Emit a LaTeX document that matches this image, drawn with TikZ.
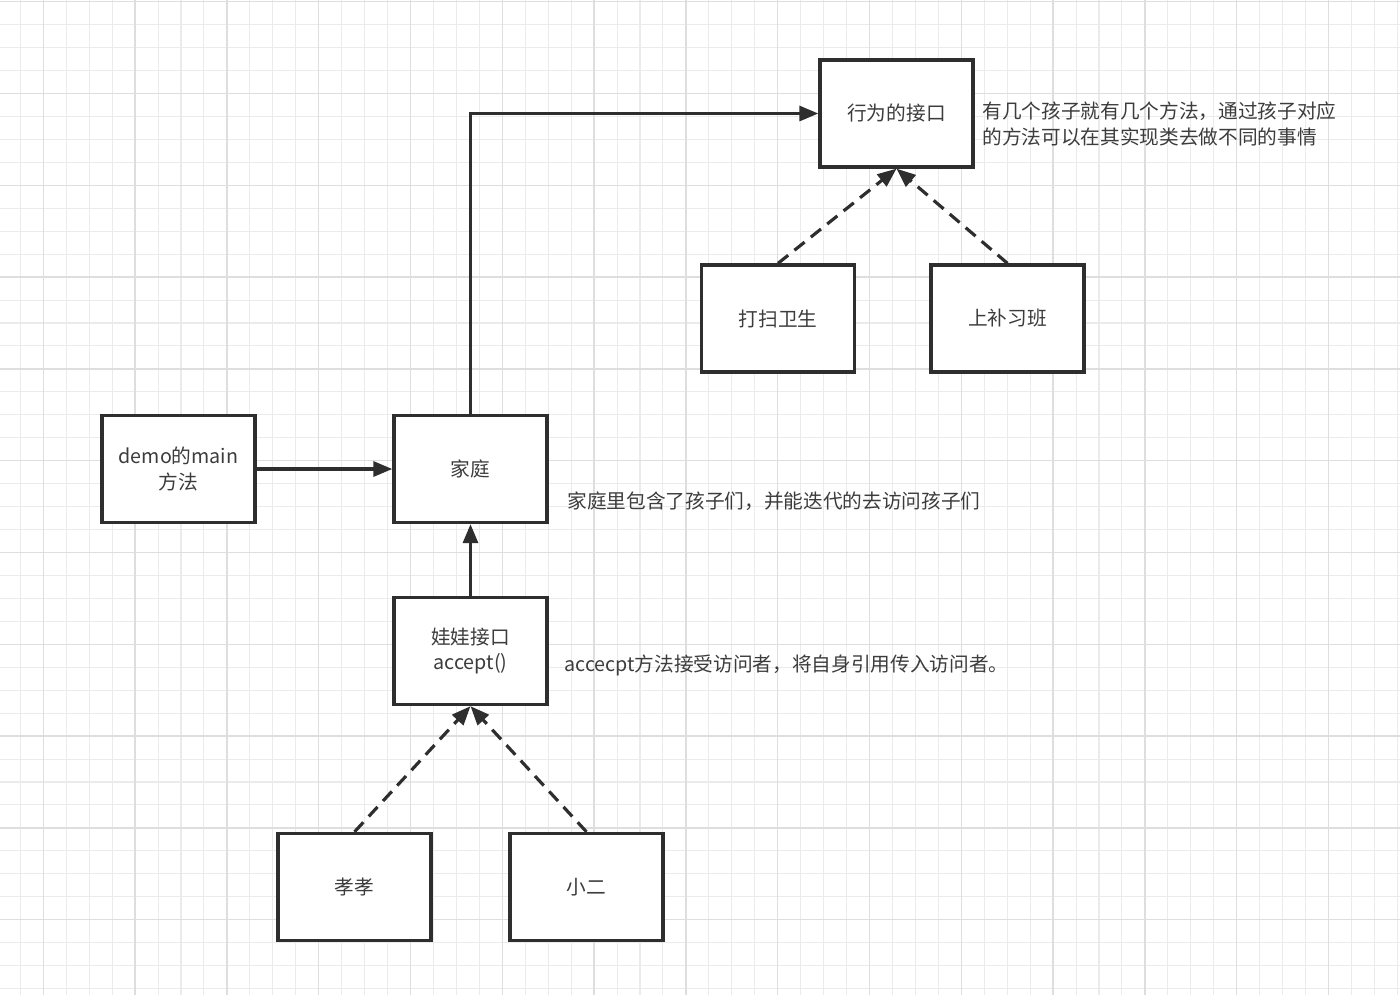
\documentclass[tikz,border=0pt]{standalone}
\usepackage{fontspec}
\setmainfont{Noto Sans CJK SC}
\usepackage{tikz}
\usetikzlibrary{arrows.meta}

\definecolor{inkgray}{HTML}{2E2E2E}
\definecolor{textgray}{HTML}{3C3C3C}
\definecolor{gridminor}{HTML}{EBEBEB}
\definecolor{gridmajor}{HTML}{DEDEDE}

\begin{document}
\begin{tikzpicture}[x=0.02cm, y=-0.02cm,
        box/.style={draw=inkgray, line width=1.9pt, fill=white, minimum width=3.06cm,
            minimum height=2.14cm, inner sep=0pt, align=center, text=textgray,
            font=\fontsize{11.2}{14.7}\selectfont},
        note/.style={anchor=west, inner sep=0pt, align=left, text=textgray,
            font=\fontsize{11.2}{14.7}\selectfont},
        link/.style={draw=inkgray, line width=1.8pt,
            -{Triangle[length=0.38cm, width=0.3cm]}},
        impl/.style={link, dash pattern=on 0.26cm off 0.16cm}]
        % Background
        \useasboundingbox (0,0) rectangle (1400,995);
        \fill[white] (0,0) rectangle (1400,995);
        \foreach \i in {0,...,60}
            \draw[gridminor, line width=0.6pt] ({20.35+22.95*\i},0) -- ({20.35+22.95*\i},995);
        \foreach \j in {0,...,43}
            \draw[gridminor, line width=0.6pt] (0,{1.7+22.95*\j}) -- (1400,{1.7+22.95*\j});
        \foreach \i in {0,...,14}
            \draw[gridmajor, line width=0.8pt] ({43.3+91.8*\i},0) -- ({43.3+91.8*\i},995);
        \foreach \j in {0,...,10}
            \draw[gridmajor, line width=0.8pt] (0,{1.7+91.8*\j}) -- (1400,{1.7+91.8*\j});

        % Boxes
        \node[box] (iface)  at (896.5,113.5) {行为的接口};
        \node[box] (clean)  at (778,318.5)   {打扫卫生};
        \node[box] (class)  at (1007.5,318.5) {上补习班};
        \node[box] (demo)   at (178.5,469)   {demo的main\\方法};
        \node[box] (family) at (470.5,469)   {家庭};
        \node[box] (doll)   at (470.5,651)   {娃娃接口\\accept()};
        \node[box] (xiao)   at (354.5,887)   {孝孝};
        \node[box] (erer)   at (586.5,887)   {小二};

        % Notes
        \node[note] (ifacenote)  at (982,124) {有几个孩子就有几个方法，通过孩子对应\\的方法可以在其实现类去做不同的事情};
        \node[note] (familynote) at (567,501) {家庭里包含了孩子们，并能迭代的去访问孩子们};
        \node[note] (dollnote)   at (564,665) {accecpt方法接受访问者，将自身引用传入访问者。};

        % Drawing
        \draw[link] (family.north) |- (iface.west);
        \draw[link] (demo.east) -- (family.west);
        \draw[link] (doll.north) -- (family.south);
        \draw[impl] (clean.north) -- (iface.south);
        \draw[impl] (class.north) -- (iface.south);
        \draw[impl] (xiao.north) -- (doll.south);
        \draw[impl] (erer.north) -- (doll.south);
    \end{tikzpicture}
\end{document}
